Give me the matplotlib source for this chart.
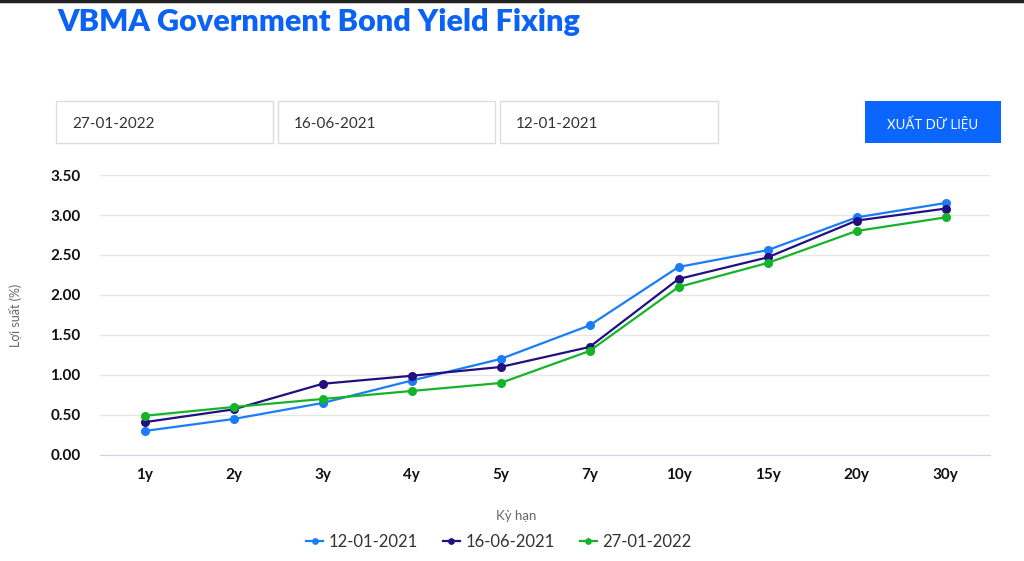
import matplotlib
matplotlib.use('Agg')
import matplotlib.pyplot as plt
from matplotlib.patches import Rectangle
from matplotlib.lines import Line2D

plt.rcParams['font.family'] = ['Lato', 'DejaVu Sans']

# data
terms = ["1y", "2y", "3y", "4y", "5y", "7y", "10y", "15y", "20y", "30y"]
y_120121 = [0.30, 0.45, 0.65, 0.93, 1.20, 1.62, 2.35, 2.56, 2.97, 3.15]
y_160621 = [0.41, 0.57, 0.89, 0.99, 1.10, 1.35, 2.20, 2.47, 2.93, 3.08]
y_270122 = [0.49, 0.60, 0.70, 0.80, 0.90, 1.30, 2.10, 2.40, 2.80, 2.97]
dates = ["27-01-2022", "16-06-2021", "12-01-2021"]

W, H = 1024, 561
fig = plt.figure(figsize=(W / 100, H / 100), dpi=100)

def fx(px):
    return px / W

def fy(py):
    return 1 - py / H

# top border line
fig.add_artist(Line2D([0, 1], [fy(1), fy(1)], color="#222222", lw=2.5))

fig.text(fx(57), fy(22), "VBMA Government Bond Yield Fixing", color="#0a63f5",
         fontsize=22, fontweight="heavy", va="center", ha="left")

# date boxes
boxes = [(56, 273), (278, 495), (500, 718)]
for (x0, x1), d in zip(boxes, dates):
    fig.add_artist(Rectangle((fx(x0), fy(143)), fx(x1 - x0), (143 - 101) / H,
                             facecolor="white", edgecolor="#dcdcdc", lw=1))
    fig.text(fx(x0 + 16), fy(124), d, fontsize=11, color="#333333", va="center")

# export button
fig.add_artist(Rectangle((fx(865), fy(143)), fx(1001 - 865), (143 - 101) / H,
                         facecolor="#0a66ff", edgecolor="none"))
fig.text(fx(933), fy(123), "XUẤT DỮ LIỆU", fontsize=9.5, color="white",
         va="center", ha="center")

ax = fig.add_axes([fx(100), fy(455), fx(990 - 100), (455 - 175) / H])
x = list(range(len(terms)))
series = [("12-01-2021", y_120121, "#1a7df7"),
          ("16-06-2021", y_160621, "#220f80"),
          ("27-01-2022", y_270122, "#14b42a")]
for name, vals, c in series:
    ax.plot(x, vals, color=c, lw=1.6, marker="o", ms=5.5, label=name, zorder=3)

ax.set_xlim(-0.5, len(terms) - 0.5)
ax.set_ylim(0, 3.5)
ax.set_yticks([0, 0.5, 1, 1.5, 2, 2.5, 3, 3.5])
ax.set_yticklabels(["%.2f" % v for v in ax.get_yticks()])
ax.set_xticks(x)
ax.set_xticklabels(terms)
for lab in ax.get_xticklabels() + ax.get_yticklabels():
    lab.set_fontweight("bold")
    lab.set_fontsize(11)
    lab.set_color("#111111")
ax.tick_params(axis="both", length=0)
ax.tick_params(axis="y", pad=14)
ax.tick_params(axis="x", pad=9)
ax.grid(axis="y", color="#e6e6e6", lw=1)
ax.set_axisbelow(True)
for s in ["top", "right", "left"]:
    ax.spines[s].set_visible(False)
ax.spines["bottom"].set_color("#ccd6eb")

fig.text(fx(16), fy(315), "Lợi suất (%)", rotation=90, fontsize=9,
         color="#666666", va="center", ha="center")
fig.text(fx(516), fy(516), "Kỳ hạn", fontsize=9.5, color="#666666",
         va="center", ha="center")

leg = fig.legend(loc="center", bbox_to_anchor=(fx(499), fy(542)), ncol=3,
                 frameon=False, fontsize=12, handlelength=1.0,
                 columnspacing=1.5, handletextpad=0.35, markerscale=0.7)
for t in leg.get_texts():
    t.set_color("#333333")

fig.savefig("out.png", dpi=100)
